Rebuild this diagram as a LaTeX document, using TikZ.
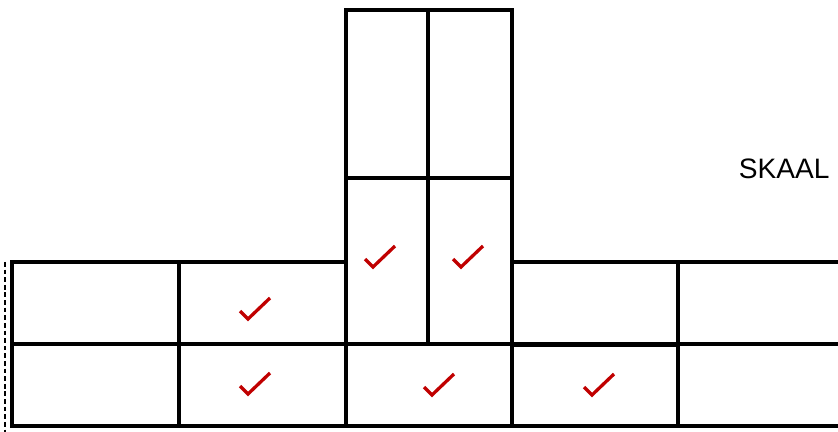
\documentclass[tikz,border=0pt]{standalone}
\usepackage{fontspec}
\setmainfont{Liberation Sans}
\usepackage{xcolor}
\usepackage{tikz}
\definecolor{okred}{HTML}{C00000}

\begin{document}
\begin{tikzpicture}[x=0.03cm, y=-0.03cm, line width=3.2pt,
    cell/.style={draw=black, line join=miter},
    okmark/.pic={\draw[okred, line width=2.8pt] (-8,-8) -- (0,0) -- (22,-21);}]
    \useasboundingbox (0,0) rectangle (838,432);
    \clip (0,0) rectangle (838,432);

    % Bottom row.
    \draw[cell] (12,344) rectangle (179,426);
    \draw[cell] (179,344) rectangle (346,426);
    \draw[cell] (346,344) rectangle (512,426);
    \draw[cell] (512,345) rectangle (678,426);
    \draw[cell] (678,344) rectangle (860,426);

    % Upper row.
    \draw[cell] (12,262) rectangle (179,344);
    \draw[cell] (179,262) rectangle (346,344);
    \draw[cell] (512,262) rectangle (678,344);
    \draw[cell] (678,262) rectangle (860,344);

    % Tower in the middle.
    \draw[cell] (346,10) rectangle (428,178);
    \draw[cell] (428,10) rectangle (512,178);
    \draw[cell] (346,178) rectangle (428,344);
    \draw[cell] (428,178) rectangle (512,344);

    % Dashed edge on the left.
    \draw[line width=1.5pt, dash pattern=on 4pt off 2.5pt] (5,262) -- (5,432);

    % Ticks.
    \pic at (248,319) {okmark};
    \pic at (248,394) {okmark};
    \pic at (432,395) {okmark};
    \pic at (592,395) {okmark};
    \pic at (373,267) {okmark};
    \pic at (461,267) {okmark};

    \node[anchor=base west, inner sep=0pt, font=\fontsize{24pt}{28pt}\selectfont] (skaal) at (737,179) {SKAAL};
\end{tikzpicture}
\end{document}
